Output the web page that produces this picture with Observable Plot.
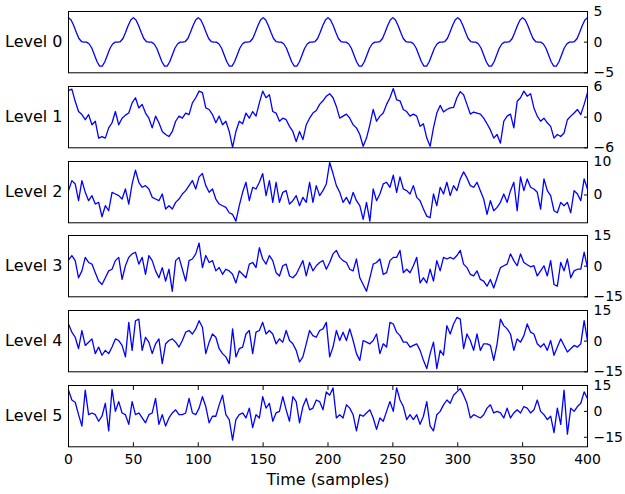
<!DOCTYPE html>
<html><head><meta charset="utf-8">
<script src="https://cdn.jsdelivr.net/npm/d3@7"></script>
<script src="https://cdn.jsdelivr.net/npm/@observablehq/plot@0.6"></script>
<style>
body{margin:0;background:#fff;}
#chart{position:relative;width:625px;height:494px;background:#fff;overflow:hidden;}
#chart svg{position:absolute;left:0;overflow:visible;}
</style></head><body><div id="chart"></div>
<script>
const levelNames = ["Level 0", "Level 1", "Level 2", "Level 3", "Level 4", "Level 5"];

const level0 = [
 4, 3.6, 2.7, 1.6, 0.6, 0.1, 0, 0, -0.3, -1, -2.1, -3.2, -3.9, -3.9, -3.2, -2.1, -1, -0.3, 0, 0, 0.1, 0.6, 1.6, 2.7, 3.6,
 4, 3.6, 2.7, 1.6, 0.6, 0.1, 0, 0, -0.3, -1, -2.1, -3.2, -3.9, -3.9, -3.2, -2.1, -1, -0.3, 0, 0, 0.1, 0.6, 1.6, 2.7, 3.6,
 4, 3.6, 2.7, 1.6, 0.6, 0.1, 0, 0, -0.3, -1, -2.1, -3.2, -3.9, -3.9, -3.2, -2.1, -1, -0.3, 0, 0, 0.1, 0.6, 1.6, 2.7, 3.6,
 4, 3.6, 2.7, 1.6, 0.6, 0.1, 0, 0, -0.3, -1, -2.1, -3.2, -3.9, -3.9, -3.2, -2.1, -1, -0.3, 0, 0, 0.1, 0.6, 1.6, 2.7, 3.6,
 4, 3.6, 2.7, 1.6, 0.6, 0.1, 0, 0, -0.3, -1, -2.1, -3.2, -3.9, -3.9, -3.2, -2.1, -1, -0.3, 0, 0, 0.1, 0.6, 1.6, 2.7, 3.6,
 4, 3.6, 2.7, 1.6, 0.6, 0.1, 0, 0, -0.3, -1, -2.1, -3.2, -3.9, -3.9, -3.2, -2.1, -1, -0.3, 0, 0, 0.1, 0.6, 1.6, 2.7, 3.6,
 4, 3.6, 2.7, 1.6, 0.6, 0.1, 0, 0, -0.3, -1, -2.1, -3.2, -3.9, -3.9, -3.2, -2.1, -1, -0.3, 0, 0, 0.1, 0.6, 1.6, 2.7, 3.6,
 4, 3.6, 2.7, 1.6, 0.6, 0.1, 0, 0, -0.3, -1, -2.1, -3.2, -3.9, -3.9, -3.2, -2.1, -1, -0.3, 0, 0, 0.1, 0.6, 1.6, 2.7, 3.6,
 4
];

const level1 = [
 5.2, 5.5, 3.1, 1.1, 0.5, -0.5, 0.5, -1.5, -0.8, -4.1,
 -3.8, -4.1, -2.1, -1.1, 1.1, -1.5, -0.2, 0.4, 0.8, 2.8,
 3.8, 1.8, 2.5, 0.8, -0.2, -2.1, 0.2, -1.1, -2.8, -3.4,
 -3.8, -2.8, -0.8, 0.2, -0.2, 0.8, 0.5, 2.8, 3.8, 5.1,
 4.8, 1.8, 1.5, 0.5, -1.1, 0.2, -1.5, -0.8, -2.8, -5.9,
 -2.8, -0.8, -1.3, 0.8, -0.2, 1.1, 0.2, 2.8, 5.1, 3.8,
 4.4, 1.1, 0.8, -0.8, -0.2, -0.5, -1.8, -2.8, -4.8, -2.8,
 -4.4, -1.5, -0.2, 0.8, 1.3, 2.5, 3.2, 4.1, 4.6, 3.8,
 2.1, -0.2, 0.2, 0.6, -0.2, -1.5, -2.1, -3.4, -5.7, -4.1,
 -1.5, 1.5, -0.8, 0.2, 0.8, 2.5, 3.8, 5.6, 3.4, 3.2,
 1.5, 1.1, 0.2, 0.6, 0.2, -1.8, -1.3, -4.1, -5.7, -2.1,
 0.8, 2.3, 1.0, 1.5, 1.8, 1.9, 3.8, 5.0, 4.4, 2.5,
 0.6, 1.0, 0.8, 0.6, -0.2, -1.3, -2.5, -4.1, -3.4, -5.1,
 -0.8, 0.2, 0.6, -2.1, 3.1, 3.8, 5.1, 4.1, 4.6, 1.8,
 0.2, -0.8, -0.2, -1.1, -1.8, -4.1, -3.4, -3.8, -3.1, -0.5,
 0.2, 0.8, 1.5, 0.5, 2.5, 4.8
];

const level2 = [
 1.3, 4.3, 3.3, -1.7, 4.3, 0.8, -1.7, -0.2, -2.7, -2.2,
 -6.5, -3.2, -4.7, 0.8, 0.3, -0.2, -1.2, 1.8, -2.7, 3.3,
 7.4, 3.8, 2.3, 2.8, 1.8, -0.7, -1.2, -1.7, 0.3, -4.2,
 -3.2, -4.2, -2.2, -1.2, 0.3, 1.3, 2.8, 4.3, 1.8, 5.4,
 6.4, 2.8, 0.8, 1.8, -1.2, -2.7, -3.2, -3.7, -5.3, -5.8,
 -7.8, -3.2, 0.8, 3.8, -1.7, 2.3, 1.8, 3.8, 6.4, -0.2,
 4.3, -2.2, 3.8, -2.2, 0.8, 1.3, -2.7, -1.7, -0.2, -3.2,
 -0.7, -2.2, 3.8, -2.2, 2.8, -0.2, 1.3, 3.3, 9.7, 6.4,
 2.8, 0.8, -2.2, -0.7, -2.7, 0.8, -1.7, -3.2, -7.3, -2.2,
 -7.8, 1.8, -1.7, 0.3, 3.3, 3.8, 2.3, 5.9, 0.8, 5.4,
 1.8, 1.3, 0.3, 2.8, -0.7, -1.7, -4.2, -6.3, -6.8, 0.3,
 -3.2, 2.3, 0.3, 3.8, -0.2, 2.8, 1.3, 4.8, 6.9, 5.1,
 2.8, 2.3, 3.8, 1.3, -1.2, -5.8, -1.7, -4.7, -3.7, -2.2,
 0.3, -2.2, 1.3, 3.8, -4.7, 5.4, 1.3, 4.8, 2.3, 1.8,
 0.8, -4.2, 4.8, 1.3, -0.2, -4.7, -5.3, -2.2, -3.2, -2.2,
 -5.3, 1.3, 0.3, -1.7, 4.8, 1.8
];

const level3 = [
 3.0, 5.2, 2.7, -5.7, -2.3, 4.3, 1.8, 1.0, -3.2, -7.3,
 -9.0, -5.7, -2.3, -1.5, 2.7, 4.3, -6.5, 0.2, 4.3, 6.0,
 6.8, 1.0, 4.3, -4.0, 5.2, 2.7, -2.3, -5.7, -0.7, -7.3,
 -1.5, -12.3, 2.7, 4.3, -1.5, -7.3, 2.7, 3.5, 6.0, 11.3,
 -0.7, 5.2, 1.8, 2.7, -2.3, -0.7, -4.0, -1.5, -2.3, -4.0,
 -8.2, -2.3, -4.0, -5.7, 1.0, 1.8, -0.7, 9.0, 3.5, 1.0,
 5.2, 2.7, -3.2, -4.8, 0.2, 1.0, -4.8, -5.7, -4.0, -0.7,
 2.7, -4.8, 1.8, -2.3, 0.2, 1.8, 2.7, -1.5, 1.8, 6.0,
 7.7, 4.3, 2.7, 1.8, -1.5, -2.3, 3.5, -5.7, -9.0, -12.3,
 -5.7, 1.0, 1.8, 3.5, -4.0, -3.2, 2.7, 4.3, 4.3, 7.7,
 -3.2, -1.5, -3.2, 0.2, 4.3, -8.2, -5.7, -8.2, -1.5, -7.3,
 2.7, -2.3, 4.3, 3.5, 4.3, 3.5, 5.2, 7.7, 1.0, -0.7,
 -4.0, -4.8, -2.3, -6.5, -7.3, -9.8, -6.5, -10.7, -5.7, -0.7,
 0.2, 1.0, 6.0, 2.7, 0.2, 6.0, 1.8, 0.7, -0.3, 0.2,
 -4.8, -2.3, 0.2, -4.8, 2.7, -9.0, -9.8, 1.8, -2.3, 3.5,
 -5.7, -2.3, -1.5, -1.5, 6.8, -0.7
];

const level4 = [
 8.4, 4.4, 1.9, -3.7, 5.2, -2.1, -0.5, 1.1, -6.1, -2.9,
 -6.9, -4.5, -6.1, -2.9, 1.1, 0.3, -2.1, -7.7, 9.2, -4.5,
 10, 10.8, -4.5, 1.9, -0.5, -6.1, -1.3, 1.1, -11, -1.3,
 0.3, 1.1, -0.5, -2.9, 0.3, 4.4, 5.2, 3.5, 6.0, 10,
 6.8, -6.1, -0.5, 3.5, 1.9, -3.7, -6.1, -7.7, -11, 6.0,
 -7.7, -3.7, -2.9, 3.5, 5.2, -6.1, 4.4, 5.2, 9.2, 3.5,
 5.2, 3.5, -1.3, 1.1, -0.5, 5.2, 0.3, -1.3, -4.5, -10.2,
 -7.7, -1.3, 5.2, 2.7, 1.9, 5.2, 6.0, 9.2, -7.7, -2.9,
 5.2, 0.3, 4.4, 0.3, 6.0, 0.3, -6.1, -9.4, 0.3, -0.5,
 -1.3, 0.3, 3.5, -6.1, -1.3, -2.9, 9.2, 8.4, 4.4, 2.7,
 -0.5, -0.5, -2.9, -2.1, -1.3, -4.5, -9.4, -13.4, -6.1, -0.5,
 -13.4, -4.5, -6.9, 7.6, 3.5, 8.4, 11.6, 10.8, -3.7, 3.5,
 0.3, -4.5, 3.5, -4.5, -1.3, -1.3, -2.1, -9.4, -1.3, 10.8,
 7.6, 6.0, 3.5, -4.5, 1.1, -0.5, 2.7, 8.4, 4.4, 3.5,
 -1.3, -2.9, -1.3, -4.5, 0.3, -6.9, -2.9, 1.1, -2.1, -5.3,
 -3.7, -2.1, -2.9, -1.3, 10, 0.3
];

const level5 = [
 12.3, 6.6, 5.3, -1.9, -8.5, 12.3, -1.9, -0.9, -1.9, -5.7,
 -2.8, 4.7, -11.3, 12.8, 0, 5.7, -0.9, -1.9, -7.5, 5.7,
 -1.9, -0.9, -3.8, -6.6, -1.9, -0.9, 7.5, -7.5, -1.9, -8.5,
 -3.8, -0.9, 0.9, -1.9, -1.9, -0.9, 7.5, -0.9, -1.9, 1.9,
 8.5, 2.8, -6.6, -2.8, -2.8, 3.8, 9.4, -1.9, -4.7, -16.6,
 -4.7, -1.9, -0.9, -3.8, 1.9, -9.4, -1.9, -3.8, 8.5, 1.9,
 4.7, -5.7, -0.9, 0, 8.5, 0.9, -5.7, 8.5, 5.7, -6.6,
 2.8, 7.5, 0.9, 1.9, 6.6, 5.7, 0.9, 11.3, 9.4, 13.6,
 -3.8, -1.9, -3.8, 3.8, 1.9, -1.9, -11.3, -1.9, -2.8, -0.9,
 0.9, -3.8, -10.4, -3.8, -5.7, 0, 5.7, 0, 13.6, 6.6,
 2.8, -4.7, -1.9, -4.7, -1.9, -7.5, -2.8, 5.7, -8.5, -11.3,
 -1.9, 0, 3.8, 6.6, 4.7, 9.4, 11.3, 13.2, 9.4, 4.7,
 -3.8, -1.9, -2.8, -3.8, -1.9, 1.9, 3.8, -0.9, 0, -0.9,
 -3.8, 1.9, -3.8, -0.9, 0.9, -0.9, 2.8, 1.9, -0.9, 0.9,
 6.6, 0, -1.9, -4.7, -2.8, -12.3, 1.9, -7.5, 12.3, -13.2,
 1.9, 0, 2.8, 4.7, 11.3, 7.5
];

const series = [level0, level1, level2, level3, level4, level5];
const yDomains = [[-5, 5], [-6, 6], [-8.3, 10], [-15, 15], [-15, 15], [-20.5, 15]];
const yTicks = [[-5, 0, 5], [-6, 0, 6], [0, 10], [-15, 0, 15], [-15, 0, 15], [-15, 0, 15]];
const xTicks = [0, 50, 100, 150, 200, 250, 300, 350, 400];
const xLabel = "Time (samples)";
const tMax = 400;

const fmt = d => d < 0 ? "\u2212" + Math.abs(d) : String(d);
const PANEL_TOP = 11, PANEL_STEP = 74.8, PANEL_H = 61.3, PAD = 7, BOTTOM = 47;
const root = document.getElementById("chart");

series.forEach((vals, k) => {
  const last = k === series.length - 1;
  const rows = vals.map((v, i) => ({t: i * tMax / (vals.length - 1), v}));
  const mb = last ? BOTTOM : PAD;
  const marks = [
    Plot.line(rows, {x: "t", y: "v", stroke: "#0000ff", strokeWidth: 1.3}),
    Plot.frame({stroke: "black", strokeWidth: 1}),
    Plot.axisY(yTicks[k], {anchor: "right", tickSize: -4, tickPadding: 10, tickFormat: fmt, label: null, fontSize: 14}),
    Plot.text([levelNames[k]], {text: d => d, frameAnchor: "left", textAnchor: "end", dx: -6, fontSize: 16})
  ];
  if (last) {
    marks.push(
      Plot.axisX(xTicks, {anchor: "bottom", tickSize: -4, tickPadding: 11, label: null, fontSize: 14}),
      Plot.axisX(xTicks, {anchor: "top", tickSize: -4, tickFormat: () => "", label: null}),
      Plot.text([xLabel], {text: d => d, frameAnchor: "bottom", dy: 38, fontSize: 16})
    );
  }
  const svg = Plot.plot({
    width: 625,
    height: PANEL_H + PAD + mb,
    marginLeft: 68, marginRight: 38, marginTop: PAD, marginBottom: mb,
    style: {background: "transparent", fontFamily: "DejaVu Sans", fontSize: "14px", color: "black", overflow: "visible"},
    x: last ? {domain: [0, tMax]} : {domain: [0, tMax], axis: null},
    y: {domain: yDomains[k]},
    marks
  });
  svg.style.top = (PANEL_TOP + PANEL_STEP * k - PAD) + "px";
  root.appendChild(svg);
});
</script>
</body></html>
